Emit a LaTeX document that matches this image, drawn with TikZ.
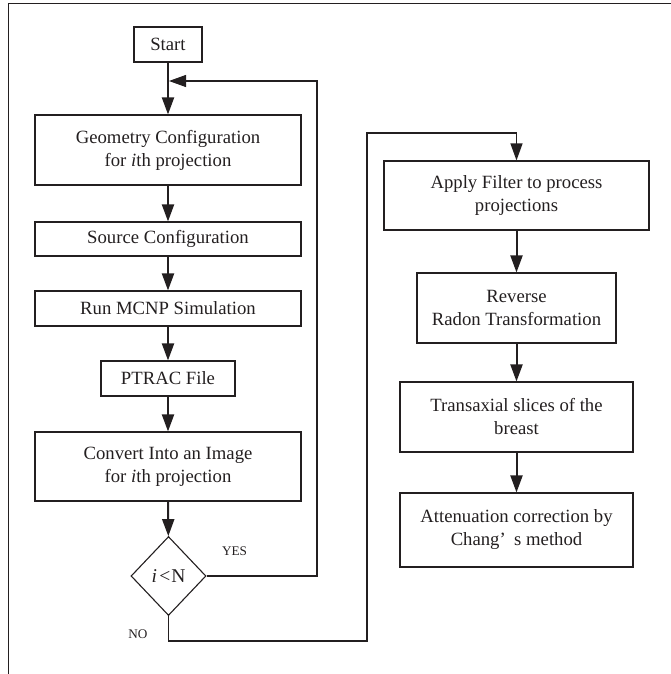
\documentclass[tikz,border=0pt]{standalone}
\usepackage{fontspec}
\setmainfont{Liberation Serif}
\usetikzlibrary{shapes.geometric,arrows.meta}
\definecolor{ink}{RGB}{35,31,32}
\begin{document}
\begin{tikzpicture}[x=1pt,y=-1pt,
  box/.style={draw=ink,line width=1.1pt,rectangle,inner sep=0pt,align=center,font=\fontsize{18.7}{23}\selectfont,text=ink},
  dec/.style={draw=ink,line width=1.1pt,diamond,inner sep=0pt,font=\fontsize{19.5}{23}\selectfont,text=ink},
  flow/.style={draw=ink,line width=2pt,-{Triangle[length=17pt,width=12pt]}},
  loop/.style={draw=ink,line width=1.1pt},
  looparrow/.style={loop,-{Triangle[length=17pt,width=12pt]}},
  lab/.style={font=\fontsize{13.2}{15}\selectfont,text=ink,inner sep=0pt},
  frame/.style={draw=ink,line width=1pt}]
\useasboundingbox (0,0) rectangle (671,674);
\draw[frame] (8,674) -- (8,4) -- (671,4);

% left column
\node[box,minimum width=68pt,minimum height=35pt] (start) at (168,44.5) {Start};
\node[box,minimum width=266pt,minimum height=70pt] (geo) at (168,150) {Geometry Configuration\\for \textit{i}th projection};
\node[box,minimum width=266pt,minimum height=34pt] (src) at (168,239) {Source Configuration};
\node[box,minimum width=266pt,minimum height=35pt] (run) at (168,308.5) {Run MCNP Simulation};
\node[box,minimum width=134pt,minimum height=35pt] (ptrac) at (168,378.5) {PTRAC File};
\node[box,minimum width=266pt,minimum height=69pt] (conv) at (168,466.5) {Convert Into an Image\\for \textit{i}th projection};
\node[dec,minimum width=75pt,minimum height=79pt] (dia) at (168.5,576) {\textit{i}\hspace{0.12em}<\hspace{0.05em}N};

% right column
\node[box,minimum width=265pt,minimum height=69pt] (apply) at (516.5,195.5) {Apply Filter to process\\projections};
\node[box,minimum width=199pt,minimum height=70pt] (rev) at (516.5,308) {Reverse\\Radon Transformation};
\node[box,minimum width=233pt,minimum height=70pt] (trans) at (516.5,417) {Transaxial slices of the\\breast};
\node[box,minimum width=233pt,minimum height=74pt] (att) at (516.5,530) {Attenuation correction by\\Chang’\hspace{0.45em}s method};

% labels
\node[lab] (yes) at (234.5,551.5) {YES};
\node[lab] (no) at (138,634.5) {NO};

% helper coordinates
\coordinate (join) at (169,81);
\coordinate (loopr) at (317,81);
\coordinate (nobot) at (367,641);
\coordinate (notop) at (367,133);

% main flow
\draw[flow] (start) -- (geo);
\draw[flow] (geo) -- (src);
\draw[flow] (src) -- (run);
\draw[flow] (run) -- (ptrac);
\draw[flow] (ptrac) -- (conv);
\draw[flow] (conv) -- (dia);
\draw[flow] (apply) -- (rev);
\draw[flow] (rev) -- (trans);
\draw[flow] (trans) -- (att);

% loops
\draw[looparrow] (dia.east) -| (loopr) -- (join);
\draw[looparrow] (dia.south) |- (nobot) -- (notop) -| (apply.north);
\end{tikzpicture}
\end{document}
